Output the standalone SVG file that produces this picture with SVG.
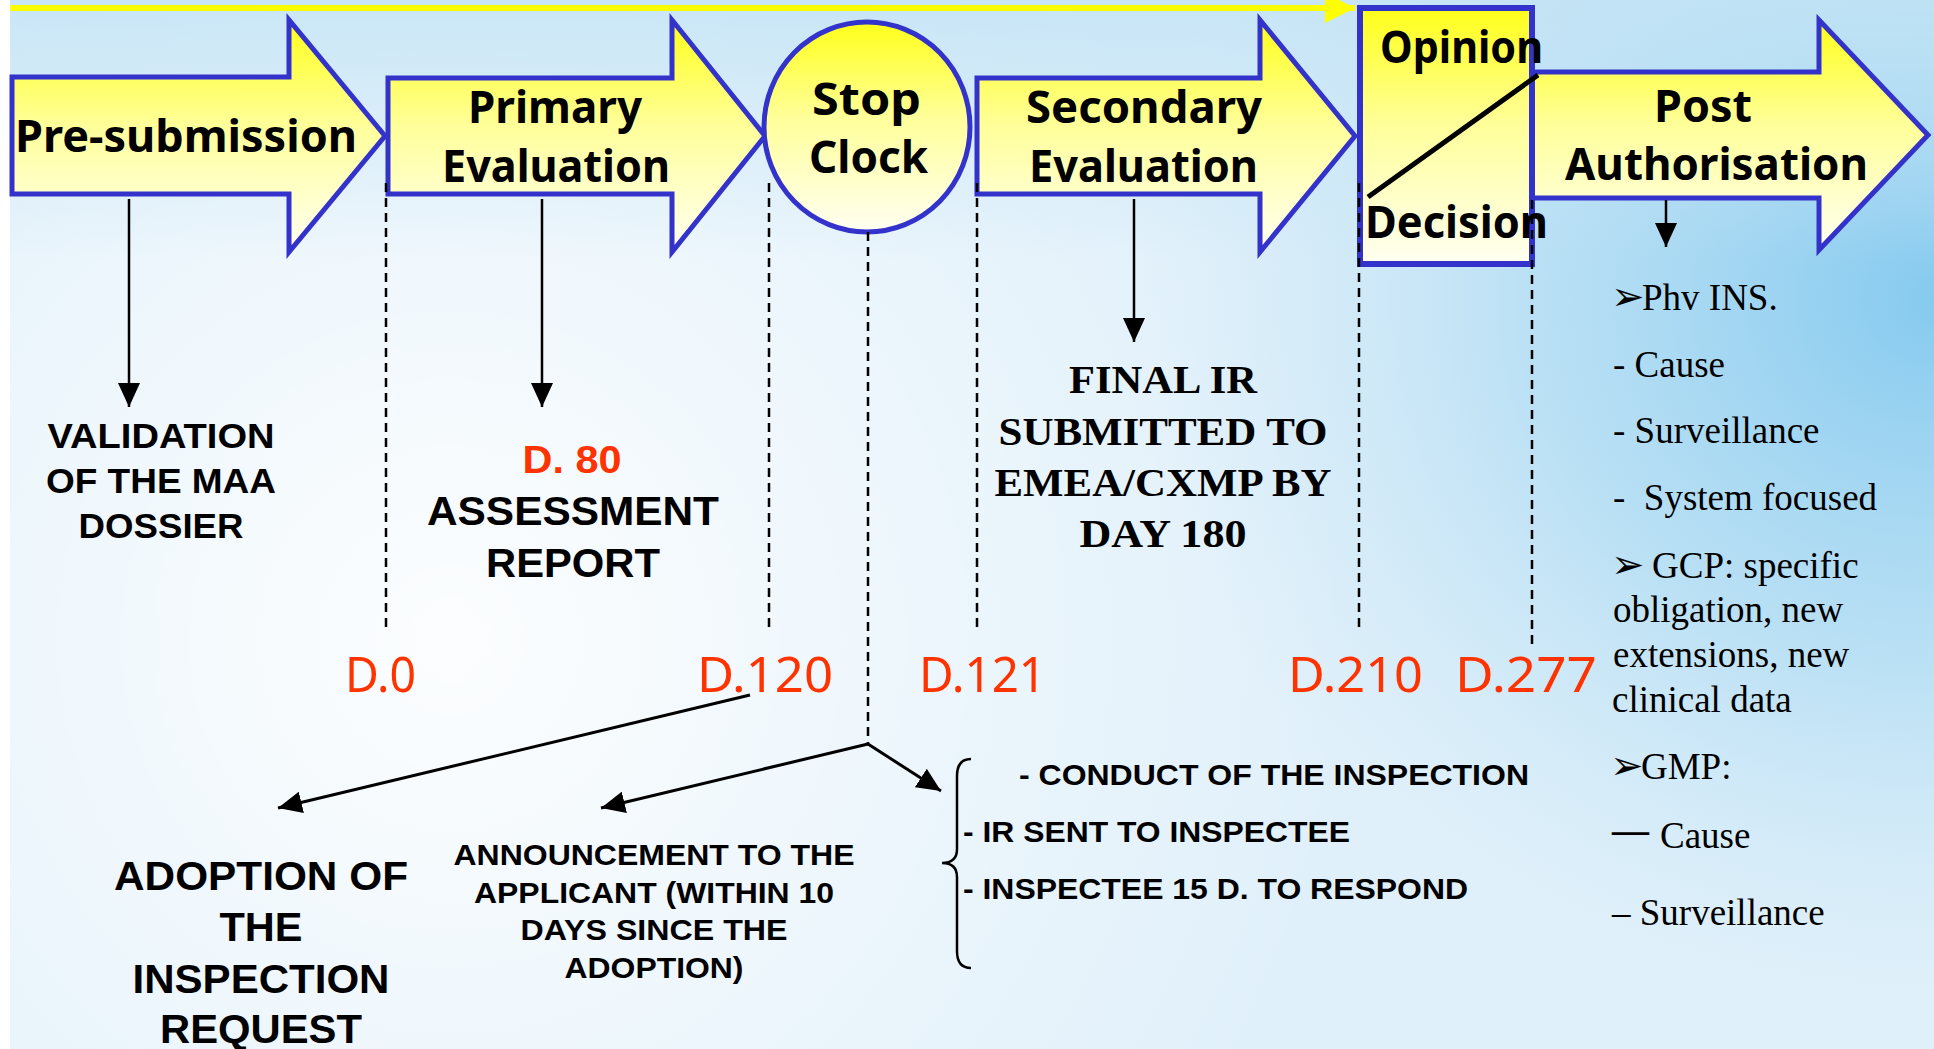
<svg xmlns="http://www.w3.org/2000/svg" width="1934" height="1049" viewBox="0 0 1934 1049">
<defs>
<linearGradient id="yel" x1="0" y1="0" x2="0" y2="1">
<stop offset="0" stop-color="#ffff1a"/>
<stop offset="0.45" stop-color="#ffff99"/>
<stop offset="1" stop-color="#fffff2"/>
</linearGradient>
<linearGradient id="topBlue" x1="0" y1="0" x2="0" y2="1">
<stop offset="0" stop-color="#c2e3f5" stop-opacity="0.8"/>
<stop offset="1" stop-color="#c2e3f5" stop-opacity="0"/>
</linearGradient>
<radialGradient id="whiteHaze" cx="450" cy="640" r="900" gradientUnits="userSpaceOnUse">
<stop offset="0" stop-color="#ffffff" stop-opacity="0.9"/>
<stop offset="0.6" stop-color="#ffffff" stop-opacity="0.35"/>
<stop offset="1" stop-color="#ffffff" stop-opacity="0"/>
</radialGradient>
<radialGradient id="blueGlow" cx="1934" cy="300" r="800" gradientUnits="userSpaceOnUse" gradientTransform="translate(1934 300) scale(1 0.9) translate(-1934 -300)">
<stop offset="0" stop-color="#86caef"/>
<stop offset="0.5" stop-color="#a9d9f2" stop-opacity="0.7"/>
<stop offset="1" stop-color="#c8e6f7" stop-opacity="0"/>
</radialGradient>
<marker id="ah" markerUnits="userSpaceOnUse" markerWidth="26" markerHeight="22" refX="24" refY="11" orient="auto">
<path d="M0,0 L24,11 L0,22 Z" fill="#000"/>
</marker>
<marker id="ahy" markerUnits="userSpaceOnUse" markerWidth="32" markerHeight="32" refX="30" refY="15" orient="auto">
<path d="M0,0 L30,15 L0,30 Z" fill="#ffff00"/>
</marker>
<style>
.stage{fill:url(#yel);stroke:#3333cc;stroke-width:5;stroke-linejoin:miter}
.ct{font-family:"Comic Sans MS","Noto Sans","DejaVu Sans",sans-serif;font-weight:bold;font-size:45px;fill:#000}
.day{font-family:"Comic Sans MS","Noto Sans","DejaVu Sans",sans-serif;font-size:50px;fill:#ff3300}
.ab{font-family:"Liberation Sans",Arial,sans-serif;font-weight:bold;fill:#000}
.tb{font-family:"Liberation Serif","Times New Roman",serif;font-weight:bold;font-size:40px;fill:#000}
.tr{font-family:"Liberation Serif","Times New Roman",serif;font-size:37px;fill:#000}
.bul{font-family:"DejaVu Sans",sans-serif;font-size:40px;fill:#000}
.dash{stroke:#000;stroke-width:2.5;stroke-dasharray:9 6;fill:none}
.solid{stroke:#000;stroke-width:2.5;fill:none}
.thick{stroke:#000;stroke-width:3;fill:none}
</style>
</defs>

<g id="background">
<rect x="0" y="0" width="1934" height="1049" fill="#ffffff"/>
<rect x="10" y="0" width="1924" height="1049" fill="#e0f0fa"/>
<rect x="10" y="0" width="1924" height="1049" fill="url(#whiteHaze)"/>
<rect x="10" y="0" width="1924" height="1049" fill="url(#blueGlow)"/>
<rect x="10" y="0" width="1924" height="260" fill="url(#topBlue)"/>
</g>

<g id="timeline-arrow">
<line x1="10" y1="8" x2="1355" y2="8" stroke="#ffff00" stroke-width="6" marker-end="url(#ahy)"/>
</g>

<g id="node-presubmission">
<path class="stage" d="M12,77 H289 V20 L385,136 L289,252 V194 H12 Z"/>
<text class="ct" x="15" y="152" textLength="342" lengthAdjust="spacingAndGlyphs">Pre-submission</text>
</g>

<g id="node-primary">
<path class="stage" d="M388,78 H672 V20 L765,136 L672,252 V194 H388 Z"/>
<text class="ct" x="468" y="123" textLength="174" lengthAdjust="spacingAndGlyphs">Primary</text>
<text class="ct" x="442" y="182" textLength="228" lengthAdjust="spacingAndGlyphs">Evaluation</text>
</g>

<g id="node-stopclock">
<ellipse class="stage" cx="867" cy="127" rx="103" ry="105"/>
<text class="ct" x="812" y="115" textLength="109" lengthAdjust="spacingAndGlyphs">Stop</text>
<text class="ct" x="809" y="173" textLength="119" lengthAdjust="spacingAndGlyphs">Clock</text>
</g>

<g id="node-secondary">
<path class="stage" d="M977,78 H1260 V20 L1355,136 L1260,252 V194 H977 Z"/>
<text class="ct" x="1026" y="123" textLength="236" lengthAdjust="spacingAndGlyphs">Secondary</text>
<text class="ct" x="1029" y="182" textLength="229" lengthAdjust="spacingAndGlyphs">Evaluation</text>
</g>

<g id="node-post">
<path class="stage" d="M1532,72 H1819 V20 L1928,135 L1819,250 V198 H1532 Z"/>
<text class="ct" x="1654" y="122" textLength="98" lengthAdjust="spacingAndGlyphs">Post</text>
<text class="ct" x="1565" y="180" textLength="303" lengthAdjust="spacingAndGlyphs">Authorisation</text>
</g>

<g id="node-opinion">
<rect x="1360" y="8" width="172" height="256" fill="url(#yel)" stroke="#3333cc" stroke-width="6"/>
<line x1="1368" y1="197" x2="1538" y2="75" stroke="#000" stroke-width="5"/>
<text class="ct" x="1380" y="63" textLength="163" lengthAdjust="spacingAndGlyphs">Opinion</text>
<text class="ct" x="1365" y="238" textLength="183" lengthAdjust="spacingAndGlyphs">Decision</text>
</g>

<g id="connectors">
<line class="solid" x1="129" y1="199" x2="129" y2="407" marker-end="url(#ah)"/>
<line class="solid" x1="542" y1="199" x2="542" y2="407" marker-end="url(#ah)"/>
<line class="solid" x1="1134" y1="199" x2="1134" y2="342" marker-end="url(#ah)"/>
<line class="solid" x1="1666" y1="200" x2="1666" y2="247" marker-end="url(#ah)"/>
<line class="dash" x1="386" y1="183" x2="386" y2="632"/>
<line class="dash" x1="769" y1="183" x2="769" y2="632"/>
<line class="dash" x1="868" y1="232" x2="868" y2="744"/>
<line class="dash" x1="977" y1="183" x2="977" y2="632"/>
<line class="dash" x1="1359" y1="183" x2="1359" y2="632"/>
<line class="dash" x1="1532" y1="200" x2="1532" y2="648"/>
<line class="thick" x1="750" y1="695" x2="278" y2="808" marker-end="url(#ah)"/>
<line class="thick" x1="868" y1="744" x2="601" y2="808" marker-end="url(#ah)"/>
<line class="thick" x1="868" y1="744" x2="941" y2="791" marker-end="url(#ah)"/>
<path class="solid" d="M971,759 Q957,759 957,776 V849 Q957,863 942,863 Q957,863 957,877 V951 Q957,968 971,968"/>
</g>

<g id="day-labels">
<text class="day" x="345" y="692" textLength="71" lengthAdjust="spacingAndGlyphs">D.0</text>
<text class="day" x="697" y="692" textLength="136" lengthAdjust="spacingAndGlyphs">D.120</text>
<text class="day" x="919" y="692" textLength="127" lengthAdjust="spacingAndGlyphs">D.121</text>
<text class="day" x="1288" y="692" textLength="135" lengthAdjust="spacingAndGlyphs">D.210</text>
<text class="day" x="1455" y="692" textLength="142" lengthAdjust="spacingAndGlyphs">D.277</text>
</g>

<g id="node-validation" class="ab" font-size="35" text-anchor="middle">
<text x="161" y="448" textLength="227" lengthAdjust="spacingAndGlyphs">VALIDATION</text>
<text x="161" y="493" textLength="230" lengthAdjust="spacingAndGlyphs">OF THE MAA</text>
<text x="161" y="538" textLength="165" lengthAdjust="spacingAndGlyphs">DOSSIER</text>
</g>

<g id="node-assessment" class="ab" font-size="40" text-anchor="middle">
<text x="572" y="473" fill="#ff3300" font-size="39" textLength="99" lengthAdjust="spacingAndGlyphs">D. 80</text>
<text x="573" y="525" textLength="292" lengthAdjust="spacingAndGlyphs">ASSESSMENT</text>
<text x="573" y="577" textLength="174" lengthAdjust="spacingAndGlyphs">REPORT</text>
</g>

<g id="node-finalir" class="tb" text-anchor="middle">
<text x="1163" y="393" textLength="188" lengthAdjust="spacingAndGlyphs">FINAL IR</text>
<text x="1163" y="445" textLength="329" lengthAdjust="spacingAndGlyphs">SUBMITTED TO</text>
<text x="1163" y="496" textLength="337" lengthAdjust="spacingAndGlyphs">EMEA/CXMP BY</text>
<text x="1163" y="547" textLength="167" lengthAdjust="spacingAndGlyphs">DAY 180</text>
</g>

<g id="node-post-list" class="tr">
<text x="1611" y="310"><tspan class="bul">➢</tspan><tspan x="1642">Phv INS.</tspan></text>
<text x="1613" y="377">- Cause</text>
<text x="1613" y="443">- Surveillance</text>
<text x="1613" y="510" xml:space="preserve">-  System focused</text>
<text x="1611" y="578"><tspan class="bul">➢</tspan><tspan x="1652">GCP: specific</tspan></text>
<text x="1613" y="622">obligation, new</text>
<text x="1613" y="667">extensions, new</text>
<text x="1612" y="712">clinical data</text>
<text x="1610" y="779"><tspan class="bul">➢</tspan><tspan x="1641">GMP:</tspan></text>
<text x="1612" y="843" font-weight="bold">—</text>
<text x="1660" y="848">Cause</text>
<text x="1612" y="925">– Surveillance</text>
</g>

<g id="node-adoption" class="ab" font-size="41" text-anchor="middle">
<text x="261" y="890" textLength="294" lengthAdjust="spacingAndGlyphs">ADOPTION OF</text>
<text x="261" y="941" textLength="83" lengthAdjust="spacingAndGlyphs">THE</text>
<text x="261" y="993" textLength="257" lengthAdjust="spacingAndGlyphs">INSPECTION</text>
<text x="261" y="1043" textLength="202" lengthAdjust="spacingAndGlyphs">REQUEST</text>
</g>

<g id="node-announcement" class="ab" font-size="30" text-anchor="middle">
<text x="654" y="865" textLength="401" lengthAdjust="spacingAndGlyphs">ANNOUNCEMENT TO THE</text>
<text x="654" y="903" textLength="360" lengthAdjust="spacingAndGlyphs">APPLICANT (WITHIN 10</text>
<text x="654" y="940" textLength="267" lengthAdjust="spacingAndGlyphs">DAYS SINCE THE</text>
<text x="654" y="978" textLength="179" lengthAdjust="spacingAndGlyphs">ADOPTION)</text>
</g>

<g id="node-inspection-steps" class="ab" font-size="30">
<text x="1019" y="785" textLength="510" lengthAdjust="spacingAndGlyphs">- CONDUCT OF THE INSPECTION</text>
<text x="963" y="842" textLength="387" lengthAdjust="spacingAndGlyphs">- IR SENT TO INSPECTEE</text>
<text x="963" y="899" textLength="505" lengthAdjust="spacingAndGlyphs">- INSPECTEE 15 D. TO RESPOND</text>
</g>
</svg>
